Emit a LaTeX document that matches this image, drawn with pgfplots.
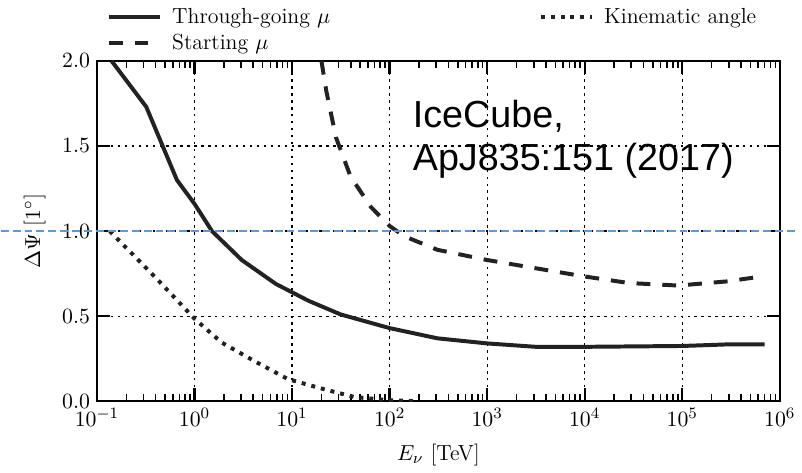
\documentclass[border=0pt]{standalone}
\usepackage{pgfplots}
\pgfplotsset{compat=1.18}
\usepackage{fontspec}
\newfontfamily\arialfont{Liberation Sans}
\definecolor{linecol}{HTML}{222222}
\definecolor{refblue}{HTML}{5B9BD5}
\begin{document}
\begin{tikzpicture}
\begin{axis}[
  scale only axis, width=344pt, height=171.5pt,
  font=\fontsize{11}{13}\selectfont,
  xmode=log, xmin=1e-1, xmax=1e6, ymin=0, ymax=2,
  xtick={1e-1,1e0,1e1,1e2,1e3,1e4,1e5,1e6},
  ytick={0,0.5,1,1.5,2},
  yticklabel style={/pgf/number format/.cd, fixed, fixed zerofill, precision=1},
  grid=major,
  major grid style={black, line width=0.6pt, dash pattern=on 1.2pt off 2.3pt},
  axis line style={line width=1.2pt},
  major tick length=6.5pt, minor tick length=3.5pt,
  every major tick/.append style={line width=1.2pt, black},
  every minor tick/.append style={line width=0.8pt, black},
  xlabel={$E_\nu$ [TeV]}, ylabel={$\Delta\Psi$ [$1^\circ$]},
  xlabel shift=2pt, ylabel shift=1.5pt,
  legend columns=2,
  legend cell align=left,
  legend image code/.code={\draw[#1] (0pt,0pt) -- (26pt,0pt);},
  legend style={draw=none, fill=none, at={(0.005,1.18)}, anchor=north west,
    font=\fontsize{11}{13}\selectfont,
    /tikz/every odd column/.append style={column sep=3pt},
    /tikz/every even column/.append style={column sep=103pt}},
]
\addplot[linecol, line width=2pt] coordinates {
(0.141,2.0) (0.32,1.73) (0.66,1.30) (1.0,1.16) (1.51,1.0) (3.05,0.83) (6.8,0.69)
(14.8,0.59) (31.6,0.51) (100,0.43) (309,0.37) (1000,0.34) (3162,0.32) (1e4,0.32)
(1e5,0.325) (3.16e5,0.335) (7e5,0.335)};
\addlegendentry{Through-going $\mu$}
\addplot[linecol, line width=2pt, dash pattern=on 2pt off 3pt] coordinates {
(0.135,1.0) (0.41,0.72) (1.0,0.485) (1.9,0.345) (4.3,0.23) (9.1,0.13) (20,0.075)
(43.6,0.025) (100,0.006) (200,0.0)};
\addlegendentry{Kinematic angle}
\addplot[linecol, line width=2pt, dash pattern=on 7pt off 6pt] coordinates {
(20,2.0) (22.4,1.825) (28.2,1.55) (39.8,1.32) (64.6,1.14) (100,1.03) (141,0.97)
(309,0.89) (1000,0.83) (9550,0.735) (28200,0.695) (91200,0.68) (2.95e5,0.705) (6.76e5,0.735)};
\addlegendentry{Starting $\mu$}
\node[anchor=base west, inner sep=0pt, font=\arialfont\fontsize{19}{23}\selectfont] at (rel axis cs:0.462,0.805) {IceCube,};
\node[anchor=base west, inner sep=0pt, font=\arialfont\fontsize{19}{23}\selectfont] at (rel axis cs:0.462,0.679) {ApJ835:151 (2017)};
\coordinate (L) at (rel axis cs:-0.141,0.5);
\coordinate (R) at (rel axis cs:1.0247,0.5);
\end{axis}
\draw[refblue, line width=0.7pt, dash pattern=on 4pt off 2pt] (L) -- (R);
\end{tikzpicture}
\end{document}
